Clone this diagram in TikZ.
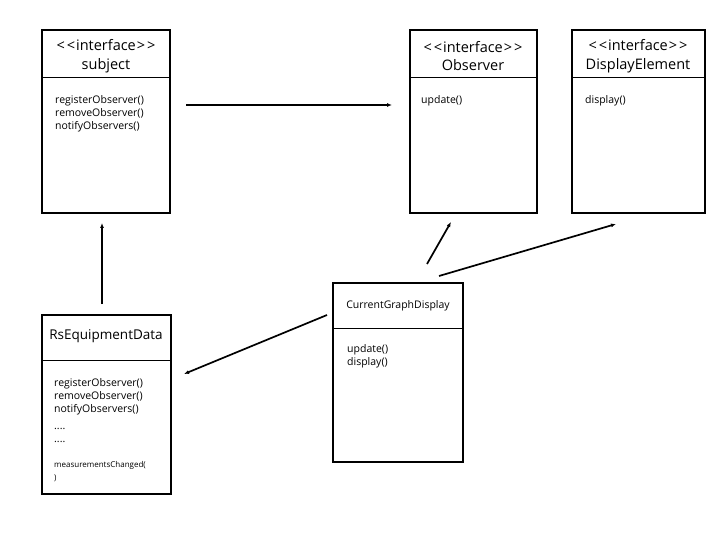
\documentclass[tikz,border=0pt]{standalone}
\usepackage{fontspec}
\setmainfont{Open Sans}
\usetikzlibrary{arrows.meta}
\newcommand{\iface}{\textless\kern2pt\textless\kern1pt interface\kern1pt\textgreater\kern2pt\textgreater}

\begin{document}
\begin{tikzpicture}[x=1pt, y=-1pt, >={Latex[length=5pt,width=4pt]},
	classbox/.style={draw, line width=2.8pt, inner sep=0pt},
	title/.style={font=\fontsize{14.5}{18.5}\selectfont, align=center},
	meth/.style={font=\fontsize{10.5}{13}\selectfont, anchor=north west, align=left, inner sep=0pt},
	link/.style={->, line width=1.7pt}]
	\useasboundingbox (0,0) rectangle (720,540);
	% class boxes: name/left/top/right/bottom/divider
	\foreach \nm/\l/\t/\r/\b/\d in {subj/42/30/170/213/77, obs/410/30/537/213/77, disp/572/30/705/213/77, rsdata/42/315/171/494/360, graph/333/283/463/462/328} {
		\draw[classbox] (\l,\t) rectangle (\r,\b);
		\draw[line width=0.6pt] (\l,\d) -- (\r,\d);
		\node[inner sep=0pt] (\nm) at ({(\l+\r)/2},{(\t+\b)/2}) {};
	}
	% headers
	\node[title] (subjhead) at (106,56) {\iface\\subject};
	\node[title] (obshead) at (473,56) {\iface\\Observer};
	\node[title] (disphead) at (638,56) {\iface\\DisplayElement};
	\node[title, font=\fontsize{13.5}{16}\selectfont] (rshead) at (106,336) {RsEquipmentData};
	\node[title, font=\fontsize{10.5}{12}\selectfont] (graphhead) at (398,306) {CurrentGraphDisplay};
	% methods
	\node[meth] (subjops) at (55,95) {registerObserver()\\removeObserver()\\notifyObservers()};
	\node[meth] (obsops) at (421,95) {update()};
	\node[meth] (dispops) at (585,95) {display()};
	\node[meth] (graphops) at (347,344) {update()\\display()};
	\node[meth] (rsops) at (54,378) {registerObserver()\\removeObserver()\\notifyObservers()};
	\node[meth] (rsdots) at (54,428) {....\\....};
	\node[meth, font=\fontsize{8}{13}\selectfont] (rschanged) at (54,461) {measurementsChanged(\\)};
	% connector ends
	\coordinate (a1) at (186,105);  \coordinate (a2) at (392,105);
	\coordinate (b1) at (102,304);  \coordinate (b2) at (102,223);
	\coordinate (c1) at (427,264);  \coordinate (c2) at (451,222);
	\coordinate (d1) at (439,276);  \coordinate (d2) at (616,224);
	\coordinate (e1) at (327,315);  \coordinate (e2) at (184,374);
	\foreach \s/\e in {a1/a2, b1/b2, c1/c2, d1/d2, e1/e2}
		\draw[link] (\s) -- (\e);
\end{tikzpicture}
\end{document}
